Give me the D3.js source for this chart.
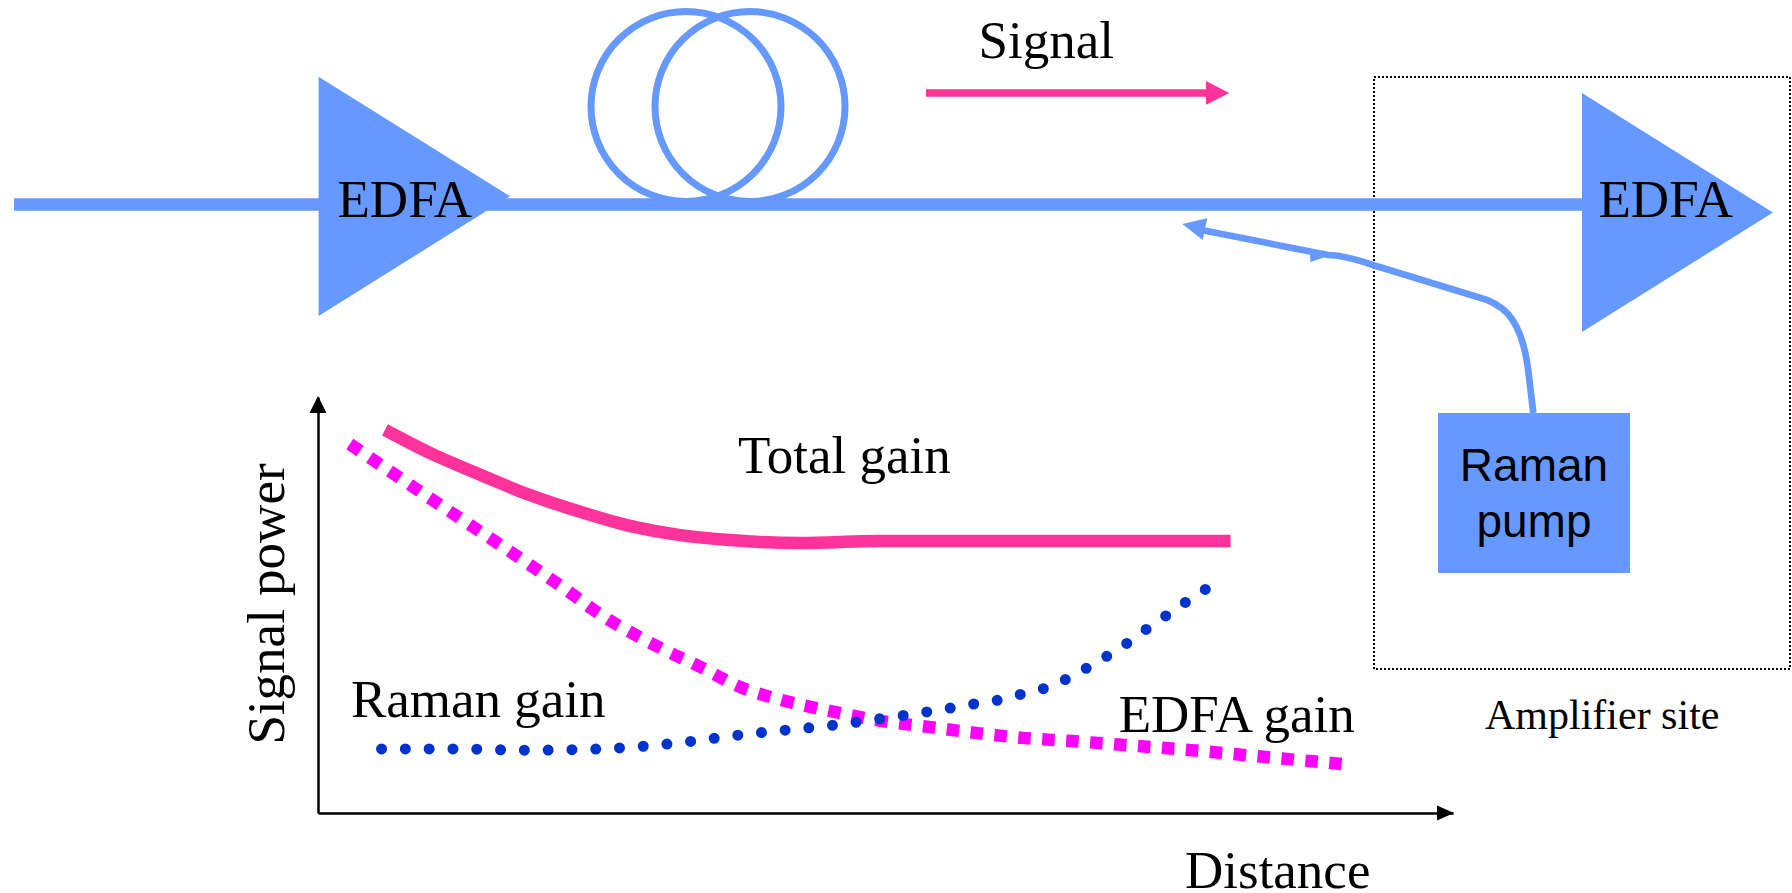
<!DOCTYPE html>
<html>
<head>
<meta charset="utf-8">
<script src="https://cdn.jsdelivr.net/npm/d3@7"></script>
<style>
  body { margin: 0; background: #ffffff; }
  svg { display: block; }
  .serif { font-family: "Liberation Serif", "Times New Roman", serif; fill: #000; }
  .sans { font-family: "Liberation Sans", Arial, sans-serif; fill: #000; }
</style>
</head>
<body>
<div id="chart"></div>
<script>
// signal power vs distance (axis units 0..100)
var totalGainDist  = [5.9, 9.9, 14.3, 18.7, 23.1, 27.5, 31.9, 36.3, 42.5, 49.5, 60.1, 80.4];
var totalGainPower = [92.1, 86.5, 81.3, 76.4, 72.4, 69.0, 66.8, 65.6, 64.9, 65.4, 65.4, 65.4];

var edfaGainDist  = [2.8, 6.8, 12.1, 17.4, 22.6, 24.2, 30.0, 33.7, 37.2, 40.8, 45.5, 49.7, 53.8, 58.1, 62.3, 66.4, 70.8, 77.0, 83.3, 90.2];
var edfaGainPower = [88.7, 81.3, 71.6, 62.0, 52.2, 49.0, 39.9, 35.1, 30.3, 27.2, 24.3, 22.1, 20.7, 19.2, 18.0, 17.3, 16.4, 15.1, 13.5, 11.8];

var ramanGainDist  = [5.6, 12.0, 18.3, 24.7, 28.9, 33.1, 37.3, 41.5, 45.7, 49.9, 54.1, 58.2, 60.4, 62.4, 64.4, 66.3, 68.2, 70.0, 71.8, 73.5, 75.2, 77.0, 78.8];
var ramanGainPower = [15.4, 15.4, 15.1, 15.4, 16.1, 17.3, 18.8, 20.0, 21.2, 22.8, 24.5, 26.4, 27.4, 28.9, 30.3, 32.7, 35.6, 38.5, 41.8, 45.2, 48.3, 51.7, 54.8];

var BLUE = "#6699FF";

function Diagram() {
  var w = 1792, h = 893;

  var svg = d3.select("#chart")
    .append("svg")
    .attr("width", w)
    .attr("height", h);

  svg.append("rect").attr("width", w).attr("height", h).attr("fill", "#fff");

  //Amplifier site box (dotted)
  svg.append("rect")
    .attr("x", 1374).attr("y", 77)
    .attr("width", 416).attr("height", 592)
    .attr("fill", "none")
    .attr("stroke", "#000")
    .attr("stroke-width", 2)
    .attr("stroke-dasharray", "2,2");

  //Fiber coil
  [686, 750].forEach(function (cx) {
    svg.append("circle")
      .attr("cx", cx).attr("cy", 106.5)
      .attr("r", 95)
      .attr("fill", "none")
      .attr("stroke", BLUE)
      .attr("stroke-width", 7);
  });

  //Main fiber
  svg.append("line")
    .attr("x1", 14).attr("x2", 1584)
    .attr("y1", 204.5).attr("y2", 204.5)
    .attr("stroke", BLUE)
    .attr("stroke-width", 12.5);

  //EDFA triangles
  svg.append("polygon")
    .attr("points", "318.6,76.7 318.6,316 510,196.3")
    .attr("fill", BLUE);
  svg.append("polygon")
    .attr("points", "1582,93 1582,332 1773,212.5")
    .attr("fill", BLUE);

  svg.append("text").attr("class", "serif")
    .attr("x", 337.5).attr("y", 217).attr("font-size", 53)
    .text("EDFA");
  svg.append("text").attr("class", "serif")
    .attr("x", 1598.5).attr("y", 217).attr("font-size", 53)
    .text("EDFA");

  //Signal arrow
  svg.append("text").attr("class", "serif")
    .attr("x", 978.5).attr("y", 58).attr("font-size", 53)
    .text("Signal");
  svg.append("line")
    .attr("x1", 926).attr("x2", 1207)
    .attr("y1", 93).attr("y2", 93)
    .attr("stroke", "#FF3399")
    .attr("stroke-width", 7.3);
  svg.append("polygon")
    .attr("points", "1206,81 1229.3,93 1206,104.7")
    .attr("fill", "#FF3399");

  //Raman pump fiber
  svg.append("path")
    .attr("d", "M1533.3,413 L1530,385 C1527,355 1522,330 1508,314 C1500,305 1490,300 1476.7,296.7 " +
               "L1373,265 C1355,259 1340,255 1328,255 L1204,230.5")
    .attr("fill", "none")
    .attr("stroke", BLUE)
    .attr("stroke-width", 6.7);
  svg.append("polygon")
    .attr("points", "1182.3,224 1207.3,218.3 1202.7,240")
    .attr("fill", BLUE);
  svg.append("polygon")
    .attr("points", "1310,254 1310.5,262 1324,257.5")
    .attr("fill", BLUE);

  //Raman pump box
  svg.append("rect")
    .attr("x", 1438).attr("y", 413)
    .attr("width", 192).attr("height", 160)
    .attr("fill", BLUE);
  svg.append("text").attr("class", "sans")
    .attr("x", 1534).attr("y", 481).attr("font-size", 46)
    .attr("text-anchor", "middle")
    .text("Raman");
  svg.append("text").attr("class", "sans")
    .attr("x", 1534).attr("y", 537).attr("font-size", 46)
    .attr("text-anchor", "middle")
    .text("pump");

  svg.append("text").attr("class", "serif")
    .attr("x", 1485).attr("y", 729).attr("font-size", 42)
    .text("Amplifier site");

  //Plot scales
  var xScale = d3.scaleLinear().domain([0, 100]).range([318, 1453]);
  var yScale = d3.scaleLinear().domain([0, 100]).range([813, 397]);

  //Draw xAxis
  var xAxis = svg.append("g")
    .attr("transform", "translate(0," + yScale(0) + ")")
    .call(d3.axisBottom(xScale).tickValues([]).tickSizeOuter(0));
  xAxis.select(".domain").attr("stroke", "#000").attr("stroke-width", 2.5);

  //Draw yAxis
  var yAxis = svg.append("g")
    .attr("transform", "translate(" + xScale(0) + ",0)")
    .call(d3.axisLeft(yScale).tickValues([]).tickSizeOuter(0));
  yAxis.select(".domain").attr("stroke", "#000").attr("stroke-width", 2.5);

  //Arrow heads
  var xe = xScale(100), ye = yScale(0);
  svg.append("polygon")
    .attr("points", [[xe + 1, ye], [xe - 16, ye - 7.5], [xe - 16, ye + 7.5]].join(" "))
    .attr("fill", "#000");
  var xo = xScale(0), yt = yScale(100);
  svg.append("polygon")
    .attr("points", [[xo, yt - 1], [xo - 8.5, yt + 16], [xo + 8.5, yt + 16]].join(" "))
    .attr("fill", "#000");

  //Curves
  function series(xs, ys) {
    return xs.map(function (x, i) { return [x, ys[i]]; });
  }
  var line = d3.line()
    .x(function (d) { return xScale(d[0]); })
    .y(function (d) { return yScale(d[1]); })
    .curve(d3.curveMonotoneX);

  svg.append("path")
    .datum(series(edfaGainDist, edfaGainPower))
    .attr("d", line)
    .attr("fill", "none")
    .attr("stroke", "#FF00FF")
    .attr("stroke-width", 12.5)
    .attr("stroke-dasharray", "12.5,11.5");

  svg.append("path")
    .datum(series(ramanGainDist, ramanGainPower))
    .attr("d", line)
    .attr("fill", "none")
    .attr("stroke", "#0033CC")
    .attr("stroke-width", 11)
    .attr("stroke-linecap", "round")
    .attr("stroke-dasharray", "0,23.8");

  svg.append("path")
    .datum(series(totalGainDist, totalGainPower))
    .attr("d", line)
    .attr("fill", "none")
    .attr("stroke", "#FF3399")
    .attr("stroke-width", 12.5);

  //Labels
  svg.append("text").attr("class", "serif")
    .attr("x", 738).attr("y", 473).attr("font-size", 53)
    .text("Total gain");
  svg.append("text").attr("class", "serif")
    .attr("x", 351).attr("y", 717).attr("font-size", 53)
    .text("Raman gain");
  svg.append("text").attr("class", "serif")
    .attr("x", 1118.7).attr("y", 732).attr("font-size", 53)
    .text("EDFA gain");
  svg.append("text").attr("class", "serif")
    .attr("x", 1185).attr("y", 888).attr("font-size", 53)
    .text("Distance");
  svg.append("text").attr("class", "serif")
    .attr("text-anchor", "middle")
    .attr("transform", "translate(284,604) rotate(-90)")
    .attr("font-size", 53)
    .text("Signal power");
}

window.onload = function () {
  Diagram();
};
</script>
</body>
</html>
